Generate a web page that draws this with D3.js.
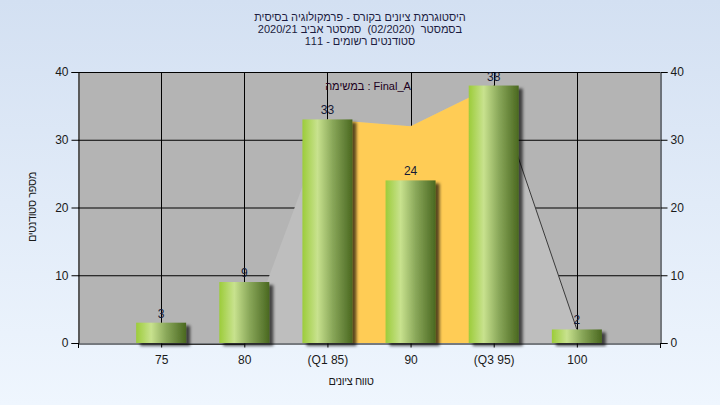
<!DOCTYPE html>
<html><head><meta charset="utf-8">
<script src="https://cdn.jsdelivr.net/npm/d3@7"></script>
<style>html,body{margin:0;padding:0;}svg{display:block;}text{white-space:pre;}</style>
</head><body>
<svg id="c" width="720" height="405"></svg>
<script>
const categories = ["75","80","(Q1 85)","90","(Q3 95)","100"];
const counts = [3, 9, 33, 24, 38, 2];
const areaValues = [0, 0, 33, 32, 38, 2];
const q1Index = 2, q3Index = 4;
const yTicks = [0, 10, 20, 30, 40];
const titleLines = ["היסטוגרמת ציונים בקורס - פרמקולוגיה בסיסית", "בסמסטר  (02/2020)  סמסטר אביב 2020/21", "סטודנטים רשומים - 111"];
const legendText = "במשימה : Final_A";
const xTitle = "טווח ציונים";
const yTitle = "מספר סטודנטים";

const W = 720, H = 405;
const L = 78, R = 660, T = 72, B = 343;
const svg = d3.select("#c");
const defs = svg.append("defs");
const bg = defs.append("linearGradient").attr("id","bg").attr("x1",0).attr("y1",0).attr("x2",0).attr("y2",1);
bg.append("stop").attr("offset","0%").attr("stop-color","#d3e0f2");
bg.append("stop").attr("offset","100%").attr("stop-color","#eff6fe");
const bar = defs.append("linearGradient").attr("id","bar").attr("x1",0).attr("y1",0).attr("x2",1).attr("y2",0);
bar.append("stop").attr("offset","0%").attr("stop-color","#9ccc3a");
bar.append("stop").attr("offset","30%").attr("stop-color","#c8e28e");
bar.append("stop").attr("offset","60%").attr("stop-color","#8aa85a");
bar.append("stop").attr("offset","100%").attr("stop-color","#4a6820");
const f = defs.append("filter").attr("id","sh").attr("x","-20%").attr("y","-20%").attr("width","150%").attr("height","150%");
f.append("feDropShadow").attr("dx",4).attr("dy",3).attr("stdDeviation",1.6).attr("flood-color","#000").attr("flood-opacity",0.65);

svg.append("rect").attr("width",W).attr("height",H).attr("fill","url(#bg)");

const x = d3.scalePoint().domain(categories).range([L, R]).padding(1);
const y = d3.scaleLinear().domain([0, 40]).range([B, T]);

svg.append("rect").attr("x",L).attr("y",T).attr("width",R-L).attr("height",B-T).attr("fill","#b4b4b4");

// grid
const g = svg.append("g");
g.selectAll("line.h").data(yTicks.filter(d=>d>0)).join("line")
  .attr("x1",L).attr("x2",R).attr("y1",d=>y(d)+0.5).attr("y2",d=>y(d)+0.5).attr("stroke","#000");
g.selectAll("line.v").data(categories).join("line")
  .attr("x1",d=>Math.round(x(d))+0.5).attr("x2",d=>Math.round(x(d))+0.5).attr("y1",T).attr("y2",B).attr("stroke","#000");

// areas
const pts = categories.map((c,i)=>({c, v: areaValues[i], i}));
const area = d3.area().x(d=>x(d.c)).y0(y(0)).y1(d=>y(d.v));
svg.append("path").datum(pts.slice(1)).attr("d", area).attr("fill","#bebebe");
svg.append("path").datum(pts.slice(q1Index, q3Index+1)).attr("d", area).attr("fill","#ffcc55");
const line = d3.line().x(d=>x(d.c)).y(d=>y(d.v));
svg.append("path").datum(pts.slice(0,2)).attr("d", line).attr("fill","none").attr("stroke","#6a6a6a").attr("transform","translate(0,1.5)");
svg.append("path").datum(pts.slice(q3Index)).attr("d", line).attr("fill","none").attr("stroke","#3a3a3a");

// bars
const bw = 50;
svg.append("g").selectAll("rect").data(categories.map((c,i)=>({c, v: counts[i]}))).join("rect")
  .attr("x", d=>x(d.c)-bw/2).attr("y", d=>y(d.v)).attr("width", bw).attr("height", d=>y(0)-y(d.v))
  .attr("fill","url(#bar)").attr("filter","url(#sh)");

// labels
svg.append("g").selectAll("text").data(categories.map((c,i)=>({c, v: counts[i]}))).join("text")
  .attr("x", d=>x(d.c)).attr("y", d=>y(d.v)-5).attr("text-anchor","middle")
  .attr("font-family","Liberation Sans, Arial, sans-serif").attr("font-size",12).attr("fill","#151a35")
  .text(d=>d.v);

// axes
const axL = d3.axisLeft(y).tickValues(yTicks).tickSize(7).tickPadding(3);
const axR = d3.axisRight(y).tickValues(yTicks).tickSize(7).tickPadding(3);
const axB = d3.axisBottom(x).tickSize(4).tickPadding(8);
function style(sel){
  sel.select(".domain").attr("stroke","#000");
  sel.selectAll(".tick line").attr("stroke","#000");
  sel.selectAll("text").attr("font-family","Liberation Sans, Arial, sans-serif").attr("font-size",12).attr("fill","#1a1a1a");
}
svg.append("g").attr("transform",`translate(${L+0.5},0)`).call(axL).call(style);
svg.append("g").attr("transform",`translate(${R+0.5},0)`).call(axR).call(style);
svg.append("g").attr("transform",`translate(0,${B+0.5})`).call(axB).call(style);
svg.append("line").attr("x1",L+0.5).attr("x2",L+0.5).attr("y1",B).attr("y2",B+5).attr("stroke","#000");
svg.append("line").attr("x1",R+0.5).attr("x2",R+0.5).attr("y1",B).attr("y2",B+5).attr("stroke","#000");

// titles
const tf = "Liberation Sans, Arial, sans-serif";
svg.append("g").selectAll("text").data(titleLines).join("text")
  .attr("x", 360).attr("y", (d,i)=>21+i*12).attr("text-anchor","middle").attr("direction","rtl")
  .attr("font-family",tf).attr("font-size",11).attr("fill","#1c1c40").text(d=>d);
svg.append("text").attr("x",368).attr("y",90).attr("text-anchor","middle")
  .attr("font-family",tf).attr("font-size",11).attr("fill","#200020").text(legendText);
svg.append("text").attr("x",351).attr("y",385).attr("text-anchor","middle").attr("direction","rtl")
  .attr("font-family",tf).attr("font-size",11).attr("letter-spacing",-0.4).attr("fill","#1a1a1a").text(xTitle);
svg.append("text").attr("transform","translate(36,207) rotate(-90)").attr("text-anchor","middle").attr("direction","rtl")
  .attr("font-family",tf).attr("font-size",11).attr("letter-spacing",-0.4).attr("fill","#1a1a1a").text(yTitle);
</script>
</body></html>
